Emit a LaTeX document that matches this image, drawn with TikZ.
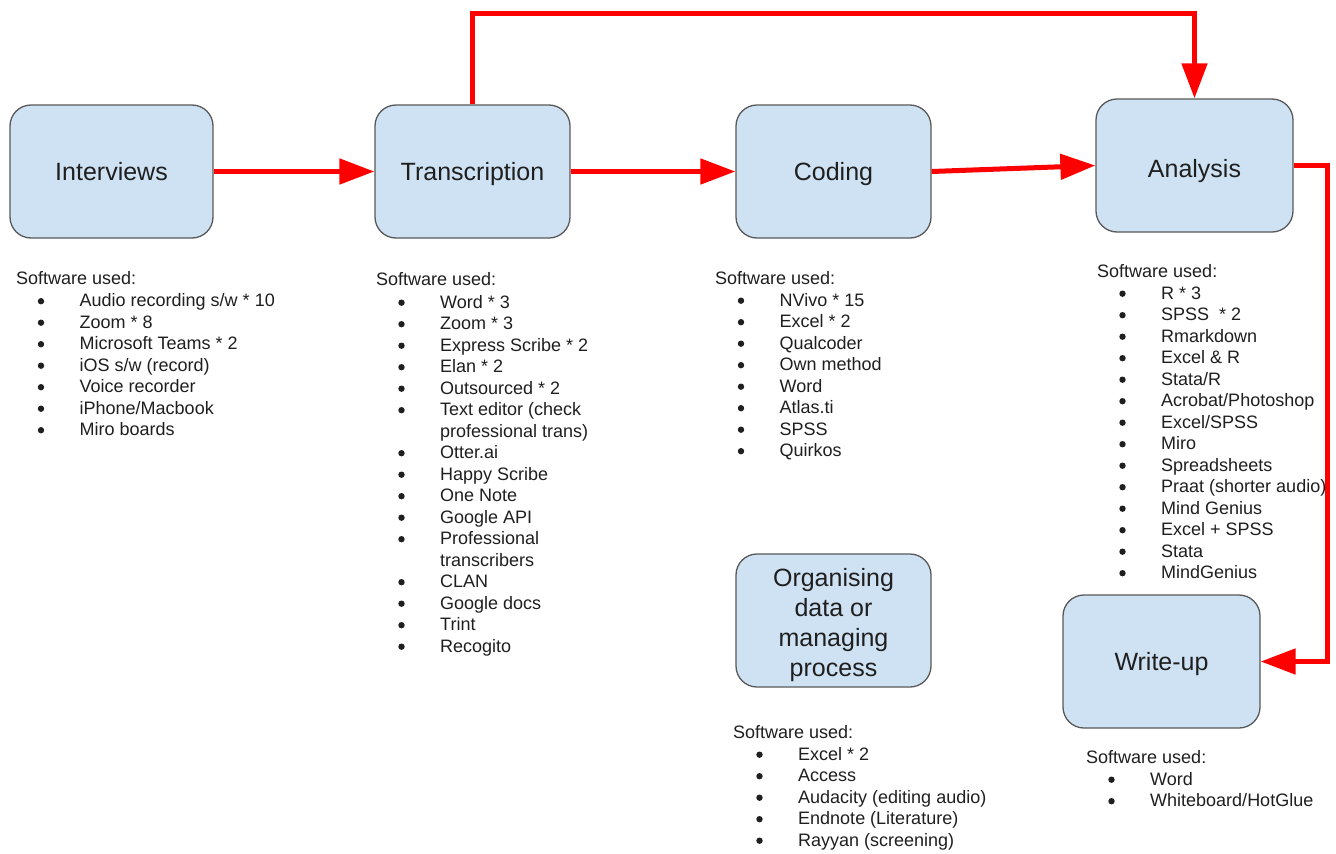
\documentclass[tikz,border=0pt]{standalone}
\usepackage{fontspec}
\setmainfont{Liberation Sans}
\usetikzlibrary{arrows.meta}

\definecolor{boxfill}{HTML}{CFE2F3}
\definecolor{boxline}{HTML}{595959}
\definecolor{flowred}{HTML}{FF0000}
\definecolor{ink}{HTML}{1F1F1F}

% marks a wrapped line of an item: no bullet in front of it
\newcommand{\cont}{}
% draws a bullet before the current item unless it starts with \cont
\def\bulletcheck#1#2\relax{%
  \ifx#1\cont\else
    \fill[ink] (\curnode.base west) ++(-38.5,-5.3) circle (3.2pt);
  \fi}
% single-line stage label, caps centred on the box (optional extra drop)
\newcommand{\stagelabel}[2][0pt]{\raisebox{\dimexpr-9pt-#1\relax}[0pt][0pt]{#2}}
% "Software used:" list: name, header x, item x, header baseline, first item baseline, items
\newcommand{\swlist}[6]{%
  \node[hdr] (#1-h) at (#2,#4) {Software used:};
  \foreach \itemtext [count=\i] in {#6} {
    \node[itm] (#1-\i) at (#3,{#5+(\i-1)*21.5}) {\itemtext};
    \edef\curnode{#1-\i}%
    \expandafter\bulletcheck\itemtext\relax
  }%
}

\begin{document}
\begin{tikzpicture}[x=1pt,y=-1pt,
  stage/.style={draw=boxline, line width=1.3pt, fill=boxfill, rounded corners=21pt,
    minimum width=195pt, minimum height=133pt, inner sep=0pt,
    font=\fontsize{25}{30}\selectfont, text=ink},
  flow/.style={draw=flowred, line width=5pt, -{Triangle[length=35pt,width=25pt]}},
  hdr/.style={anchor=base west, inner sep=0pt, font=\fontsize{18}{21.5}\selectfont, text=ink},
  itm/.style={hdr}]

\fill[white] (0,0) rectangle (1336,854);
\useasboundingbox (0,0) rectangle (1336,854);

% process stages
\node[stage, minimum width=203pt] (interviews) at (111.5,171.5) {\stagelabel{Interviews}};
\node[stage] (transcription) at (472.5,171.5) {\stagelabel{Transcription}};
\node[stage] (coding) at (833.5,171.5) {\stagelabel{Coding}};
\node[stage, minimum width=197pt] (analysis) at (1194.5,165.5) {\stagelabel[2.5pt]{Analysis}};
\node[stage] (organising) at (833.5,620.5)
  {\raisebox{-4.5pt}[\height][\depth]{\begin{tabular}{@{}c@{}}Organising\\data or\\managing\\process\end{tabular}}};
\node[stage, minimum width=197pt] (writeup) at (1161.5,661.5) {\stagelabel{Write-up}};

% flow between stages
\coordinate (topline) at (0,13);
\coordinate (sideline) at (1327,0);
\draw[flow] (interviews.east) -- (transcription.west);
\draw[flow] (transcription.east) -- (coding.west);
\draw[flow] (coding.east) -- (analysis.west);
\draw[flow] (transcription.north) -- (transcription.north |- topline) -| (analysis.north);
\draw[flow] (analysis.east) -- (analysis.east -| sideline) |- (writeup.east);

% software lists
\swlist{intsw}{16}{79.5}{284}{306.5}{%
  Audio recording s/w * 10, Zoom * 8, Microsoft Teams * 2,
  iOS s/w (record), Voice recorder, iPhone/Macbook, Miro boards}

\swlist{transw}{376}{440}{285}{308}{%
  Word * 3, Zoom * 3, Express Scribe * 2, Elan * 2,
  Outsourced * 2, Text editor (check, \cont professional trans),
  Otter.ai, Happy Scribe, One Note, Google API,
  Professional, \cont transcribers, CLAN, Google docs, Trint, Recogito}

\swlist{codsw}{715}{779.5}{284.5}{306}{%
  NVivo * 15, Excel * 2, Qualcoder, Own method,
  Word, Atlas.ti, SPSS, Quirkos}

\swlist{anasw}{1097}{1161}{277}{299}{%
  R * 3, SPSS\ \ * 2, Rmarkdown, Excel \& R, Stata/R,
  Acrobat/Photoshop, Excel/SPSS, Miro, Spreadsheets,
  Praat (shorter audio), Mind Genius, Excel + SPSS, Stata, MindGenius}

\swlist{orgsw}{733}{798}{738}{760}{%
  Excel * 2, Access, Audacity (editing audio),
  Endnote (Literature), Rayyan (screening)}

\swlist{wrisw}{1086}{1150}{763}{785}{%
  Word, Whiteboard/HotGlue}

\end{tikzpicture}
\end{document}
